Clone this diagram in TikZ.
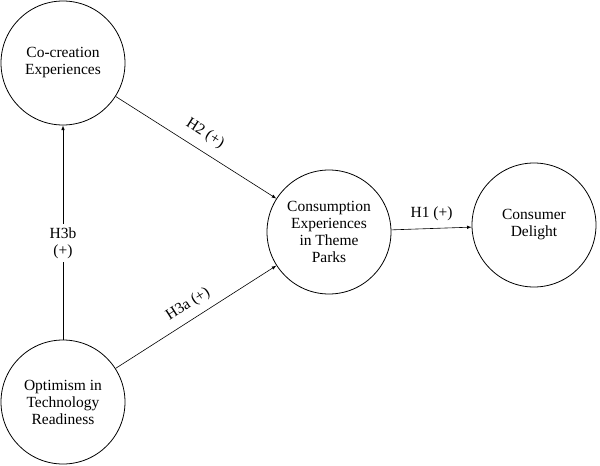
\documentclass[tikz,border=0pt]{standalone}
\usepackage{fontspec}
\setmainfont{Liberation Serif}
\begin{document}
\begin{tikzpicture}[x=1pt,y=-1pt,
  c/.style={circle,draw,thick,minimum size=124pt,inner sep=0pt,align=center,font=\fontsize{15.5}{17}\selectfont},
  a/.style={->,>=latex,semithick},
  l/.style={font=\fontsize{15.5}{17}\selectfont,align=center}]
\useasboundingbox (0,0) rectangle (600,466);
\node[c] (cc) at (63,63) {Co-creation\\Experiences};
\node[c] (ce) at (329,232) {Consumption\\Experiences\\in Theme\\Parks};
\node[c] (cd) at (534,225) {Consumer\\Delight};
\node[c] (ot) at (63,402) {Optimism in\\Technology\\Readiness};
\draw[a] (cc) -- (ce) node[l,pos=0.5,above=6pt,sloped] {H2 (+)};
\draw[a] (ot) -- (ce) node[l,pos=0.5,above=4pt,sloped] {H3a (+)};
\draw[a] (ot) -- (cc) node[l,pos=0.45,fill=white] {H3b\\(+)};
\draw[a] (ce) -- (cd) node[l,midway,above=4pt] {H1 (+)};
\end{tikzpicture}
\end{document}
